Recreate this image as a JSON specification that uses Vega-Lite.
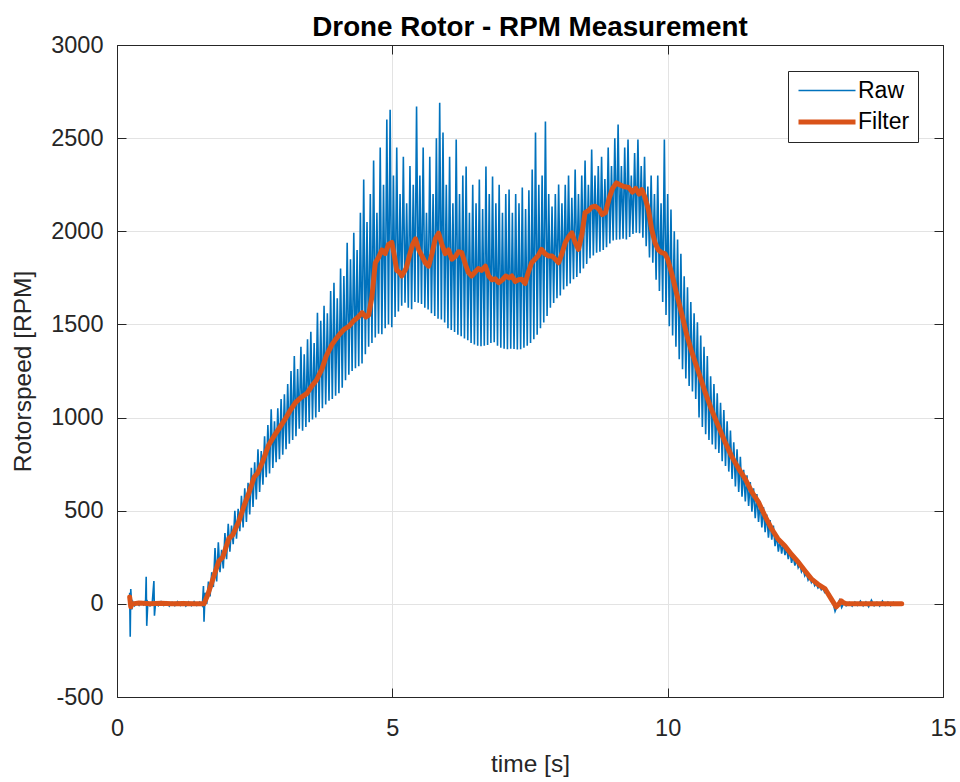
{
"$schema":"https://vega.github.io/schema/vega-lite/v6.json",
"width":826,"height":652,
"autosize":{"type":"none"},
"padding":{"left":117,"top":45,"right":17,"bottom":85},
"background":"white",
"title":{"text":"Drone Rotor - RPM Measurement","font":"Liberation Sans","fontSize":27.8,"fontWeight":"bold","color":"#000000","offset":-31,"baseline":"alphabetic","anchor":"middle"},
"config":{
"view":{"stroke":"#262626","strokeWidth":1},
"axis":{"domainColor":"#262626","tickColor":"#262626","labelColor":"#262626","titleColor":"#262626","labelFont":"Liberation Sans","titleFont":"Liberation Sans","labelFontSize":23.5,"titleFontSize":24.5,"titleFontWeight":"normal","gridColor":"#e3e3e3","gridWidth":1,"tickSize":-9,"domainWidth":1,"labelExpr":"''+datum.value","labelFlush":false,"labelOverlap":false}
},
"datasets":{
"raw":[
{"t":0.23,"v":60,"s":"Raw"},{"t":0.24,"v":-177,"s":"Raw"},{"t":0.25,"v":80,"s":"Raw"},{"t":0.27,"v":-30,"s":"Raw"},{"t":0.29,"v":10,"s":"Raw"},{"t":0.32,"v":-10,"s":"Raw"},{"t":0.36,"v":5,"s":"Raw"},{"t":0.40,"v":-8,"s":"Raw"},{"t":0.44,"v":10,"s":"Raw"},{"t":0.48,"v":-5,"s":"Raw"},{"t":0.52,"v":20,"s":"Raw"},{"t":0.53,"v":145,"s":"Raw"},{"t":0.54,"v":-118,"s":"Raw"},{"t":0.56,"v":10,"s":"Raw"},{"t":0.60,"v":-10,"s":"Raw"},{"t":0.64,"v":5,"s":"Raw"},{"t":0.67,"v":123,"s":"Raw"},{"t":0.68,"v":-64,"s":"Raw"},{"t":0.70,"v":5,"s":"Raw"},{"t":0.75,"v":-10,"s":"Raw"},{"t":0.80,"v":12,"s":"Raw"},{"t":0.85,"v":-8,"s":"Raw"},{"t":0.90,"v":10,"s":"Raw"},{"t":0.95,"v":-12,"s":"Raw"},{"t":1.00,"v":8,"s":"Raw"},{"t":1.05,"v":-10,"s":"Raw"},{"t":1.10,"v":12,"s":"Raw"},{"t":1.15,"v":-8,"s":"Raw"},{"t":1.20,"v":10,"s":"Raw"},{"t":1.25,"v":-12,"s":"Raw"},{"t":1.30,"v":10,"s":"Raw"},{"t":1.35,"v":-10,"s":"Raw"},{"t":1.40,"v":12,"s":"Raw"},{"t":1.45,"v":-8,"s":"Raw"},{"t":1.50,"v":10,"s":"Raw"},{"t":1.55,"v":-10,"s":"Raw"},{"t":1.57,"v":96,"s":"Raw"},{"t":1.58,"v":-96,"s":"Raw"},
{"t":1.60,"v":60,"s":"Raw"},{"t":1.63,"v":0,"s":"Raw"},{"t":1.66,"v":120,"s":"Raw"},{"t":1.69,"v":40,"s":"Raw"},{"t":1.72,"v":170,"s":"Raw"},{"t":1.75,"v":90,"s":"Raw"},{"t":1.78,"v":300,"s":"Raw"},{"t":1.81,"v":120,"s":"Raw"},{"t":1.84,"v":330,"s":"Raw"},{"t":1.87,"v":170,"s":"Raw"},{"t":1.90,"v":290,"s":"Raw"},{"t":1.93,"v":190,"s":"Raw"},{"t":1.96,"v":380,"s":"Raw"},{"t":1.99,"v":240,"s":"Raw"},
{"t":2.02,"v":430,"s":"Raw"},{"t":2.05,"v":280,"s":"Raw"},{"t":2.08,"v":420,"s":"Raw"},{"t":2.11,"v":320,"s":"Raw"},{"t":2.14,"v":500,"s":"Raw"},{"t":2.17,"v":350,"s":"Raw"},{"t":2.20,"v":510,"s":"Raw"},{"t":2.23,"v":390,"s":"Raw"},{"t":2.26,"v":580,"s":"Raw"},{"t":2.29,"v":410,"s":"Raw"},{"t":2.32,"v":620,"s":"Raw"},{"t":2.35,"v":440,"s":"Raw"},{"t":2.38,"v":650,"s":"Raw"},{"t":2.41,"v":480,"s":"Raw"},{"t":2.44,"v":730,"s":"Raw"},{"t":2.47,"v":520,"s":"Raw"},{"t":2.50,"v":760,"s":"Raw"},{"t":2.53,"v":560,"s":"Raw"},{"t":2.56,"v":830,"s":"Raw"},{"t":2.59,"v":600,"s":"Raw"},{"t":2.62,"v":820,"s":"Raw"},{"t":2.65,"v":640,"s":"Raw"},{"t":2.68,"v":900,"s":"Raw"},{"t":2.71,"v":680,"s":"Raw"},{"t":2.74,"v":960,"s":"Raw"},{"t":2.77,"v":700,"s":"Raw"},{"t":2.80,"v":1045,"s":"Raw"},{"t":2.83,"v":730,"s":"Raw"},{"t":2.86,"v":980,"s":"Raw"},{"t":2.89,"v":760,"s":"Raw"},{"t":2.92,"v":1050,"s":"Raw"},{"t":2.95,"v":777,"s":"Raw"},{"t":2.98,"v":1100,"s":"Raw"},
{"t":3.01,"v":800,"s":"Raw"},{"t":3.04,"v":1125,"s":"Raw"},{"t":3.07,"v":830,"s":"Raw"},{"t":3.10,"v":1180,"s":"Raw"},{"t":3.13,"v":860,"s":"Raw"},{"t":3.16,"v":1250,"s":"Raw"},{"t":3.19,"v":880,"s":"Raw"},{"t":3.22,"v":1331,"s":"Raw"},{"t":3.25,"v":900,"s":"Raw"},{"t":3.28,"v":1260,"s":"Raw"},{"t":3.31,"v":940,"s":"Raw"},{"t":3.34,"v":1380,"s":"Raw"},{"t":3.37,"v":930,"s":"Raw"},{"t":3.40,"v":1340,"s":"Raw"},{"t":3.43,"v":950,"s":"Raw"},{"t":3.46,"v":1420,"s":"Raw"},{"t":3.49,"v":975,"s":"Raw"},{"t":3.52,"v":1460,"s":"Raw"},{"t":3.55,"v":990,"s":"Raw"},{"t":3.58,"v":1400,"s":"Raw"},{"t":3.61,"v":1000,"s":"Raw"},{"t":3.64,"v":1563,"s":"Raw"},{"t":3.67,"v":1030,"s":"Raw"},{"t":3.70,"v":1520,"s":"Raw"},{"t":3.73,"v":1050,"s":"Raw"},{"t":3.76,"v":1600,"s":"Raw"},{"t":3.79,"v":1070,"s":"Raw"},{"t":3.82,"v":1560,"s":"Raw"},{"t":3.85,"v":1090,"s":"Raw"},{"t":3.88,"v":1680,"s":"Raw"},{"t":3.91,"v":1100,"s":"Raw"},{"t":3.94,"v":1724,"s":"Raw"},{"t":3.97,"v":1117,"s":"Raw"},
{"t":4.00,"v":1640,"s":"Raw"},{"t":4.03,"v":1130,"s":"Raw"},{"t":4.06,"v":1800,"s":"Raw"},{"t":4.09,"v":1160,"s":"Raw"},{"t":4.12,"v":1760,"s":"Raw"},{"t":4.15,"v":1200,"s":"Raw"},{"t":4.18,"v":1938,"s":"Raw"},{"t":4.21,"v":1230,"s":"Raw"},{"t":4.24,"v":1850,"s":"Raw"},{"t":4.27,"v":1250,"s":"Raw"},{"t":4.30,"v":1992,"s":"Raw"},{"t":4.33,"v":1265,"s":"Raw"},{"t":4.36,"v":1900,"s":"Raw"},{"t":4.39,"v":1275,"s":"Raw"},{"t":4.42,"v":2100,"s":"Raw"},{"t":4.45,"v":1290,"s":"Raw"},{"t":4.48,"v":2278,"s":"Raw"},{"t":4.51,"v":1340,"s":"Raw"},{"t":4.54,"v":2050,"s":"Raw"},{"t":4.57,"v":1380,"s":"Raw"},{"t":4.60,"v":2200,"s":"Raw"},{"t":4.63,"v":1400,"s":"Raw"},{"t":4.66,"v":2380,"s":"Raw"},{"t":4.69,"v":1430,"s":"Raw"},{"t":4.72,"v":2100,"s":"Raw"},{"t":4.75,"v":1450,"s":"Raw"},{"t":4.78,"v":2450,"s":"Raw"},{"t":4.81,"v":1447,"s":"Raw"},{"t":4.84,"v":2250,"s":"Raw"},{"t":4.87,"v":1480,"s":"Raw"},{"t":4.90,"v":2600,"s":"Raw"},{"t":4.93,"v":1500,"s":"Raw"},{"t":4.96,"v":2653,"s":"Raw"},{"t":4.99,"v":1485,"s":"Raw"},
{"t":5.02,"v":2300,"s":"Raw"},{"t":5.05,"v":1540,"s":"Raw"},{"t":5.08,"v":2450,"s":"Raw"},{"t":5.11,"v":1570,"s":"Raw"},{"t":5.14,"v":2200,"s":"Raw"},{"t":5.17,"v":1600,"s":"Raw"},{"t":5.20,"v":2400,"s":"Raw"},{"t":5.23,"v":1617,"s":"Raw"},{"t":5.26,"v":2150,"s":"Raw"},{"t":5.29,"v":1590,"s":"Raw"},{"t":5.32,"v":2350,"s":"Raw"},{"t":5.35,"v":1581,"s":"Raw"},{"t":5.38,"v":2250,"s":"Raw"},{"t":5.41,"v":1620,"s":"Raw"},{"t":5.44,"v":2670,"s":"Raw"},{"t":5.47,"v":1617,"s":"Raw"},{"t":5.50,"v":2300,"s":"Raw"},{"t":5.53,"v":1610,"s":"Raw"},{"t":5.56,"v":2450,"s":"Raw"},{"t":5.59,"v":1590,"s":"Raw"},{"t":5.62,"v":2100,"s":"Raw"},{"t":5.65,"v":1580,"s":"Raw"},{"t":5.68,"v":2400,"s":"Raw"},{"t":5.71,"v":1560,"s":"Raw"},{"t":5.74,"v":2200,"s":"Raw"},{"t":5.77,"v":1545,"s":"Raw"},{"t":5.80,"v":2500,"s":"Raw"},{"t":5.83,"v":1530,"s":"Raw"},{"t":5.86,"v":2690,"s":"Raw"},{"t":5.89,"v":1527,"s":"Raw"},{"t":5.92,"v":2530,"s":"Raw"},{"t":5.95,"v":1510,"s":"Raw"},{"t":5.98,"v":2250,"s":"Raw"},
{"t":6.01,"v":1480,"s":"Raw"},{"t":6.04,"v":2400,"s":"Raw"},{"t":6.07,"v":1470,"s":"Raw"},{"t":6.10,"v":2150,"s":"Raw"},{"t":6.13,"v":1460,"s":"Raw"},{"t":6.16,"v":2493,"s":"Raw"},{"t":6.19,"v":1445,"s":"Raw"},{"t":6.22,"v":2200,"s":"Raw"},{"t":6.25,"v":1436,"s":"Raw"},{"t":6.28,"v":2300,"s":"Raw"},{"t":6.31,"v":1425,"s":"Raw"},{"t":6.34,"v":2348,"s":"Raw"},{"t":6.37,"v":1415,"s":"Raw"},{"t":6.40,"v":2100,"s":"Raw"},{"t":6.43,"v":1400,"s":"Raw"},{"t":6.46,"v":2250,"s":"Raw"},{"t":6.49,"v":1392,"s":"Raw"},{"t":6.52,"v":2150,"s":"Raw"},{"t":6.55,"v":1385,"s":"Raw"},{"t":6.58,"v":2278,"s":"Raw"},{"t":6.61,"v":1383,"s":"Raw"},{"t":6.64,"v":2120,"s":"Raw"},{"t":6.67,"v":1385,"s":"Raw"},{"t":6.70,"v":2348,"s":"Raw"},{"t":6.73,"v":1390,"s":"Raw"},{"t":6.76,"v":2200,"s":"Raw"},{"t":6.79,"v":1400,"s":"Raw"},{"t":6.82,"v":2294,"s":"Raw"},{"t":6.85,"v":1404,"s":"Raw"},{"t":6.88,"v":2150,"s":"Raw"},{"t":6.91,"v":1385,"s":"Raw"},{"t":6.94,"v":2250,"s":"Raw"},{"t":6.97,"v":1375,"s":"Raw"},
{"t":7.00,"v":2100,"s":"Raw"},{"t":7.03,"v":1370,"s":"Raw"},{"t":7.06,"v":2200,"s":"Raw"},{"t":7.09,"v":1367,"s":"Raw"},{"t":7.12,"v":2224,"s":"Raw"},{"t":7.15,"v":1370,"s":"Raw"},{"t":7.18,"v":2100,"s":"Raw"},{"t":7.21,"v":1368,"s":"Raw"},{"t":7.24,"v":2200,"s":"Raw"},{"t":7.27,"v":1365,"s":"Raw"},{"t":7.30,"v":2150,"s":"Raw"},{"t":7.33,"v":1367,"s":"Raw"},{"t":7.36,"v":2235,"s":"Raw"},{"t":7.39,"v":1375,"s":"Raw"},{"t":7.42,"v":2120,"s":"Raw"},{"t":7.45,"v":1385,"s":"Raw"},{"t":7.48,"v":2220,"s":"Raw"},{"t":7.51,"v":1400,"s":"Raw"},{"t":7.54,"v":2331,"s":"Raw"},{"t":7.57,"v":1420,"s":"Raw"},{"t":7.60,"v":2530,"s":"Raw"},{"t":7.63,"v":1445,"s":"Raw"},{"t":7.66,"v":2250,"s":"Raw"},{"t":7.69,"v":1480,"s":"Raw"},{"t":7.72,"v":2300,"s":"Raw"},{"t":7.75,"v":1511,"s":"Raw"},{"t":7.78,"v":2589,"s":"Raw"},{"t":7.81,"v":1545,"s":"Raw"},{"t":7.84,"v":2200,"s":"Raw"},{"t":7.87,"v":1590,"s":"Raw"},{"t":7.90,"v":2133,"s":"Raw"},{"t":7.93,"v":1615,"s":"Raw"},{"t":7.96,"v":2200,"s":"Raw"},{"t":7.99,"v":1640,"s":"Raw"},
{"t":8.02,"v":2251,"s":"Raw"},{"t":8.05,"v":1655,"s":"Raw"},{"t":8.08,"v":2150,"s":"Raw"},{"t":8.11,"v":1688,"s":"Raw"},{"t":8.14,"v":2250,"s":"Raw"},{"t":8.17,"v":1705,"s":"Raw"},{"t":8.20,"v":2300,"s":"Raw"},{"t":8.23,"v":1720,"s":"Raw"},{"t":8.26,"v":2180,"s":"Raw"},{"t":8.29,"v":1742,"s":"Raw"},{"t":8.32,"v":2331,"s":"Raw"},{"t":8.35,"v":1755,"s":"Raw"},{"t":8.38,"v":2200,"s":"Raw"},{"t":8.41,"v":1775,"s":"Raw"},{"t":8.44,"v":2300,"s":"Raw"},{"t":8.47,"v":1800,"s":"Raw"},{"t":8.50,"v":2380,"s":"Raw"},{"t":8.53,"v":1825,"s":"Raw"},{"t":8.56,"v":2250,"s":"Raw"},{"t":8.59,"v":1855,"s":"Raw"},{"t":8.62,"v":2439,"s":"Raw"},{"t":8.65,"v":1870,"s":"Raw"},{"t":8.68,"v":2300,"s":"Raw"},{"t":8.71,"v":1885,"s":"Raw"},{"t":8.74,"v":2350,"s":"Raw"},{"t":8.77,"v":1890,"s":"Raw"},{"t":8.80,"v":2400,"s":"Raw"},{"t":8.83,"v":1900,"s":"Raw"},{"t":8.86,"v":2280,"s":"Raw"},{"t":8.89,"v":1915,"s":"Raw"},{"t":8.92,"v":2450,"s":"Raw"},{"t":8.95,"v":1935,"s":"Raw"},{"t":8.98,"v":2350,"s":"Raw"},
{"t":9.01,"v":1950,"s":"Raw"},{"t":9.04,"v":2500,"s":"Raw"},{"t":9.07,"v":1955,"s":"Raw"},{"t":9.10,"v":2573,"s":"Raw"},{"t":9.13,"v":1956,"s":"Raw"},{"t":9.16,"v":2350,"s":"Raw"},{"t":9.19,"v":1960,"s":"Raw"},{"t":9.22,"v":2450,"s":"Raw"},{"t":9.25,"v":1956,"s":"Raw"},{"t":9.28,"v":2493,"s":"Raw"},{"t":9.31,"v":1970,"s":"Raw"},{"t":9.34,"v":2300,"s":"Raw"},{"t":9.37,"v":1985,"s":"Raw"},{"t":9.40,"v":2420,"s":"Raw"},{"t":9.43,"v":1992,"s":"Raw"},{"t":9.46,"v":2493,"s":"Raw"},{"t":9.49,"v":1990,"s":"Raw"},{"t":9.52,"v":2350,"s":"Raw"},{"t":9.55,"v":1965,"s":"Raw"},{"t":9.58,"v":2400,"s":"Raw"},{"t":9.61,"v":1920,"s":"Raw"},{"t":9.64,"v":2240,"s":"Raw"},{"t":9.67,"v":1860,"s":"Raw"},{"t":9.70,"v":2300,"s":"Raw"},{"t":9.73,"v":1831,"s":"Raw"},{"t":9.76,"v":2200,"s":"Raw"},{"t":9.79,"v":1740,"s":"Raw"},{"t":9.82,"v":2300,"s":"Raw"},{"t":9.85,"v":1680,"s":"Raw"},{"t":9.88,"v":2150,"s":"Raw"},{"t":9.91,"v":1620,"s":"Raw"},{"t":9.94,"v":2493,"s":"Raw"},{"t":9.97,"v":1550,"s":"Raw"},
{"t":10.00,"v":2200,"s":"Raw"},{"t":10.03,"v":1490,"s":"Raw"},{"t":10.06,"v":2117,"s":"Raw"},{"t":10.09,"v":1440,"s":"Raw"},{"t":10.12,"v":2000,"s":"Raw"},{"t":10.15,"v":1380,"s":"Raw"},{"t":10.18,"v":1956,"s":"Raw"},{"t":10.21,"v":1313,"s":"Raw"},{"t":10.24,"v":1880,"s":"Raw"},{"t":10.27,"v":1260,"s":"Raw"},{"t":10.30,"v":1758,"s":"Raw"},{"t":10.33,"v":1210,"s":"Raw"},{"t":10.36,"v":1700,"s":"Raw"},{"t":10.39,"v":1170,"s":"Raw"},{"t":10.42,"v":1620,"s":"Raw"},{"t":10.45,"v":1140,"s":"Raw"},{"t":10.48,"v":1560,"s":"Raw"},{"t":10.51,"v":1100,"s":"Raw"},{"t":10.54,"v":1511,"s":"Raw"},{"t":10.57,"v":1000,"s":"Raw"},{"t":10.60,"v":1440,"s":"Raw"},{"t":10.63,"v":950,"s":"Raw"},{"t":10.66,"v":1380,"s":"Raw"},{"t":10.69,"v":910,"s":"Raw"},{"t":10.72,"v":1330,"s":"Raw"},{"t":10.75,"v":880,"s":"Raw"},{"t":10.78,"v":1222,"s":"Raw"},{"t":10.81,"v":855,"s":"Raw"},{"t":10.84,"v":1180,"s":"Raw"},{"t":10.87,"v":830,"s":"Raw"},{"t":10.90,"v":1130,"s":"Raw"},{"t":10.93,"v":810,"s":"Raw"},{"t":10.96,"v":1080,"s":"Raw"},{"t":10.99,"v":765,"s":"Raw"},
{"t":11.02,"v":1040,"s":"Raw"},{"t":11.05,"v":740,"s":"Raw"},{"t":11.08,"v":980,"s":"Raw"},{"t":11.11,"v":710,"s":"Raw"},{"t":11.14,"v":930,"s":"Raw"},{"t":11.17,"v":670,"s":"Raw"},{"t":11.20,"v":868,"s":"Raw"},{"t":11.23,"v":630,"s":"Raw"},{"t":11.26,"v":830,"s":"Raw"},{"t":11.29,"v":600,"s":"Raw"},{"t":11.32,"v":790,"s":"Raw"},{"t":11.35,"v":575,"s":"Raw"},{"t":11.38,"v":720,"s":"Raw"},{"t":11.41,"v":550,"s":"Raw"},{"t":11.44,"v":690,"s":"Raw"},{"t":11.47,"v":525,"s":"Raw"},{"t":11.50,"v":654,"s":"Raw"},{"t":11.53,"v":495,"s":"Raw"},{"t":11.56,"v":620,"s":"Raw"},{"t":11.59,"v":460,"s":"Raw"},{"t":11.62,"v":590,"s":"Raw"},{"t":11.65,"v":440,"s":"Raw"},{"t":11.68,"v":550,"s":"Raw"},{"t":11.71,"v":410,"s":"Raw"},{"t":11.74,"v":520,"s":"Raw"},{"t":11.77,"v":385,"s":"Raw"},{"t":11.80,"v":480,"s":"Raw"},{"t":11.83,"v":355,"s":"Raw"},{"t":11.86,"v":450,"s":"Raw"},{"t":11.89,"v":345,"s":"Raw"},{"t":11.92,"v":420,"s":"Raw"},{"t":11.95,"v":310,"s":"Raw"},{"t":11.98,"v":370,"s":"Raw"},
{"t":12.01,"v":280,"s":"Raw"},{"t":12.04,"v":345,"s":"Raw"},{"t":12.07,"v":270,"s":"Raw"},{"t":12.10,"v":330,"s":"Raw"},{"t":12.13,"v":262,"s":"Raw"},{"t":12.16,"v":300,"s":"Raw"},{"t":12.19,"v":240,"s":"Raw"},{"t":12.22,"v":285,"s":"Raw"},{"t":12.25,"v":220,"s":"Raw"},{"t":12.28,"v":260,"s":"Raw"},{"t":12.31,"v":205,"s":"Raw"},{"t":12.34,"v":240,"s":"Raw"},{"t":12.37,"v":195,"s":"Raw"},{"t":12.40,"v":215,"s":"Raw"},{"t":12.43,"v":172,"s":"Raw"},{"t":12.46,"v":190,"s":"Raw"},{"t":12.49,"v":150,"s":"Raw"},{"t":12.52,"v":165,"s":"Raw"},{"t":12.55,"v":128,"s":"Raw"},{"t":12.58,"v":145,"s":"Raw"},{"t":12.61,"v":115,"s":"Raw"},{"t":12.64,"v":130,"s":"Raw"},{"t":12.67,"v":98,"s":"Raw"},{"t":12.70,"v":110,"s":"Raw"},{"t":12.73,"v":85,"s":"Raw"},{"t":12.76,"v":95,"s":"Raw"},{"t":12.79,"v":75,"s":"Raw"},{"t":12.82,"v":85,"s":"Raw"},{"t":12.85,"v":62,"s":"Raw"},{"t":12.88,"v":70,"s":"Raw"},{"t":12.91,"v":48,"s":"Raw"},{"t":12.94,"v":50,"s":"Raw"},{"t":12.97,"v":25,"s":"Raw"},
{"t":13.00,"v":10,"s":"Raw"},{"t":13.04,"v":-40,"s":"Raw"},{"t":13.08,"v":-10,"s":"Raw"},{"t":13.12,"v":20,"s":"Raw"},{"t":13.16,"v":-20,"s":"Raw"},{"t":13.20,"v":5,"s":"Raw"},{"t":13.24,"v":-10,"s":"Raw"},{"t":13.30,"v":8,"s":"Raw"},{"t":13.35,"v":-12,"s":"Raw"},{"t":13.40,"v":10,"s":"Raw"},{"t":13.45,"v":-8,"s":"Raw"},{"t":13.50,"v":15,"s":"Raw"},{"t":13.55,"v":-10,"s":"Raw"},{"t":13.60,"v":10,"s":"Raw"},{"t":13.65,"v":-15,"s":"Raw"},{"t":13.70,"v":20,"s":"Raw"},{"t":13.75,"v":-10,"s":"Raw"},{"t":13.80,"v":8,"s":"Raw"},{"t":13.85,"v":-12,"s":"Raw"},{"t":13.90,"v":15,"s":"Raw"},{"t":13.95,"v":-8,"s":"Raw"},{"t":14.00,"v":10,"s":"Raw"},{"t":14.05,"v":-10,"s":"Raw"},{"t":14.10,"v":8,"s":"Raw"},{"t":14.15,"v":-5,"s":"Raw"},{"t":14.20,"v":5,"s":"Raw"},{"t":14.25,"v":0,"s":"Raw"}
],
"filt":[
{"t":0.23,"v":37,"s":"Filter"},{"t":0.25,"v":-16,"s":"Filter"},{"t":0.28,"v":0,"s":"Filter"},{"t":0.4,"v":5,"s":"Filter"},{"t":0.6,"v":0,"s":"Filter"},{"t":0.8,"v":3,"s":"Filter"},{"t":1.0,"v":0,"s":"Filter"},{"t":1.2,"v":2,"s":"Filter"},{"t":1.4,"v":0,"s":"Filter"},{"t":1.58,"v":0,"s":"Filter"},{"t":1.65,"v":50,"s":"Filter"},{"t":1.76,"v":150,"s":"Filter"},{"t":1.85,"v":230,"s":"Filter"},{"t":1.92,"v":250,"s":"Filter"},{"t":2.03,"v":350,"s":"Filter"},{"t":2.1,"v":370,"s":"Filter"},{"t":2.21,"v":440,"s":"Filter"},{"t":2.3,"v":520,"s":"Filter"},{"t":2.4,"v":600,"s":"Filter"},{"t":2.49,"v":680,"s":"Filter"},{"t":2.55,"v":700,"s":"Filter"},{"t":2.64,"v":760,"s":"Filter"},{"t":2.75,"v":850,"s":"Filter"},{"t":2.85,"v":900,"s":"Filter"},{"t":2.94,"v":940,"s":"Filter"},{"t":3.05,"v":990,"s":"Filter"},{"t":3.15,"v":1040,"s":"Filter"},{"t":3.24,"v":1080,"s":"Filter"},{"t":3.35,"v":1110,"s":"Filter"},{"t":3.45,"v":1130,"s":"Filter"},{"t":3.54,"v":1170,"s":"Filter"},{"t":3.62,"v":1200,"s":"Filter"},{"t":3.72,"v":1260,"s":"Filter"},{"t":3.8,"v":1330,"s":"Filter"},{"t":3.9,"v":1390,"s":"Filter"},{"t":3.97,"v":1420,"s":"Filter"},{"t":4.05,"v":1450,"s":"Filter"},{"t":4.13,"v":1475,"s":"Filter"},{"t":4.21,"v":1490,"s":"Filter"},{"t":4.3,"v":1520,"s":"Filter"},{"t":4.38,"v":1540,"s":"Filter"},{"t":4.45,"v":1563,"s":"Filter"},{"t":4.52,"v":1540,"s":"Filter"},{"t":4.57,"v":1550,"s":"Filter"},{"t":4.63,"v":1650,"s":"Filter"},{"t":4.69,"v":1830,"s":"Filter"},{"t":4.75,"v":1860,"s":"Filter"},{"t":4.81,"v":1900,"s":"Filter"},{"t":4.87,"v":1880,"s":"Filter"},{"t":4.93,"v":1930,"s":"Filter"},{"t":4.99,"v":1940,"s":"Filter"},{"t":5.03,"v":1880,"s":"Filter"},{"t":5.08,"v":1790,"s":"Filter"},{"t":5.13,"v":1780,"s":"Filter"},{"t":5.17,"v":1760,"s":"Filter"},{"t":5.25,"v":1800,"s":"Filter"},{"t":5.32,"v":1880,"s":"Filter"},{"t":5.37,"v":1930,"s":"Filter"},{"t":5.42,"v":1960,"s":"Filter"},{"t":5.48,"v":1900,"s":"Filter"},{"t":5.54,"v":1867,"s":"Filter"},{"t":5.6,"v":1830,"s":"Filter"},{"t":5.66,"v":1813,"s":"Filter"},{"t":5.72,"v":1880,"s":"Filter"},{"t":5.78,"v":1960,"s":"Filter"},{"t":5.84,"v":1990,"s":"Filter"},{"t":5.9,"v":1930,"s":"Filter"},{"t":5.96,"v":1880,"s":"Filter"},{"t":6.02,"v":1900,"s":"Filter"},{"t":6.08,"v":1850,"s":"Filter"},{"t":6.15,"v":1867,"s":"Filter"},{"t":6.2,"v":1890,"s":"Filter"},{"t":6.26,"v":1885,"s":"Filter"},{"t":6.33,"v":1820,"s":"Filter"},{"t":6.38,"v":1780,"s":"Filter"},{"t":6.44,"v":1760,"s":"Filter"},{"t":6.5,"v":1780,"s":"Filter"},{"t":6.56,"v":1800,"s":"Filter"},{"t":6.62,"v":1790,"s":"Filter"},{"t":6.69,"v":1813,"s":"Filter"},{"t":6.75,"v":1760,"s":"Filter"},{"t":6.81,"v":1740,"s":"Filter"},{"t":6.87,"v":1745,"s":"Filter"},{"t":6.93,"v":1724,"s":"Filter"},{"t":7.0,"v":1740,"s":"Filter"},{"t":7.06,"v":1760,"s":"Filter"},{"t":7.12,"v":1750,"s":"Filter"},{"t":7.17,"v":1760,"s":"Filter"},{"t":7.23,"v":1730,"s":"Filter"},{"t":7.29,"v":1740,"s":"Filter"},{"t":7.35,"v":1742,"s":"Filter"},{"t":7.41,"v":1720,"s":"Filter"},{"t":7.47,"v":1780,"s":"Filter"},{"t":7.53,"v":1831,"s":"Filter"},{"t":7.59,"v":1850,"s":"Filter"},{"t":7.65,"v":1870,"s":"Filter"},{"t":7.71,"v":1903,"s":"Filter"},{"t":7.77,"v":1880,"s":"Filter"},{"t":7.84,"v":1867,"s":"Filter"},{"t":7.9,"v":1867,"s":"Filter"},{"t":7.96,"v":1850,"s":"Filter"},{"t":8.02,"v":1831,"s":"Filter"},{"t":8.08,"v":1880,"s":"Filter"},{"t":8.14,"v":1939,"s":"Filter"},{"t":8.2,"v":1970,"s":"Filter"},{"t":8.26,"v":1992,"s":"Filter"},{"t":8.32,"v":1940,"s":"Filter"},{"t":8.38,"v":1903,"s":"Filter"},{"t":8.44,"v":1980,"s":"Filter"},{"t":8.5,"v":2100,"s":"Filter"},{"t":8.56,"v":2110,"s":"Filter"},{"t":8.62,"v":2130,"s":"Filter"},{"t":8.68,"v":2135,"s":"Filter"},{"t":8.75,"v":2120,"s":"Filter"},{"t":8.81,"v":2090,"s":"Filter"},{"t":8.87,"v":2100,"s":"Filter"},{"t":8.94,"v":2180,"s":"Filter"},{"t":9.0,"v":2230,"s":"Filter"},{"t":9.07,"v":2260,"s":"Filter"},{"t":9.13,"v":2250,"s":"Filter"},{"t":9.2,"v":2240,"s":"Filter"},{"t":9.29,"v":2235,"s":"Filter"},{"t":9.36,"v":2210,"s":"Filter"},{"t":9.42,"v":2230,"s":"Filter"},{"t":9.48,"v":2200,"s":"Filter"},{"t":9.53,"v":2224,"s":"Filter"},{"t":9.59,"v":2180,"s":"Filter"},{"t":9.65,"v":2117,"s":"Filter"},{"t":9.71,"v":2010,"s":"Filter"},{"t":9.77,"v":1939,"s":"Filter"},{"t":9.83,"v":1900,"s":"Filter"},{"t":9.89,"v":1885,"s":"Filter"},{"t":9.95,"v":1880,"s":"Filter"},{"t":10.0,"v":1850,"s":"Filter"},{"t":10.07,"v":1778,"s":"Filter"},{"t":10.15,"v":1680,"s":"Filter"},{"t":10.25,"v":1563,"s":"Filter"},{"t":10.35,"v":1440,"s":"Filter"},{"t":10.43,"v":1360,"s":"Filter"},{"t":10.5,"v":1297,"s":"Filter"},{"t":10.6,"v":1210,"s":"Filter"},{"t":10.68,"v":1136,"s":"Filter"},{"t":10.8,"v":1040,"s":"Filter"},{"t":10.92,"v":954,"s":"Filter"},{"t":11.04,"v":870,"s":"Filter"},{"t":11.16,"v":793,"s":"Filter"},{"t":11.28,"v":730,"s":"Filter"},{"t":11.41,"v":670,"s":"Filter"},{"t":11.53,"v":600,"s":"Filter"},{"t":11.65,"v":546,"s":"Filter"},{"t":11.77,"v":470,"s":"Filter"},{"t":11.89,"v":402,"s":"Filter"},{"t":12.0,"v":350,"s":"Filter"},{"t":12.13,"v":311,"s":"Filter"},{"t":12.25,"v":265,"s":"Filter"},{"t":12.37,"v":225,"s":"Filter"},{"t":12.5,"v":175,"s":"Filter"},{"t":12.61,"v":134,"s":"Filter"},{"t":12.73,"v":105,"s":"Filter"},{"t":12.86,"v":80,"s":"Filter"},{"t":12.97,"v":27,"s":"Filter"},{"t":13.06,"v":-16,"s":"Filter"},{"t":13.1,"v":-5,"s":"Filter"},{"t":13.15,"v":16,"s":"Filter"},{"t":13.2,"v":5,"s":"Filter"},{"t":13.25,"v":0,"s":"Filter"},{"t":14.25,"v":0,"s":"Filter"}
]
},
"encoding":{
"x":{"field":"t","type":"quantitative","scale":{"domain":[0,15],"nice":false,"zero":false},"axis":{"title":"time [s]","values":[0,5,10,15],"labelPadding":28,"titlePadding":13}},
"y":{"field":"v","type":"quantitative","scale":{"domain":[-500,3000],"nice":false,"zero":false},"axis":{"title":"Rotorspeed [RPM]","values":[-500,0,500,1000,1500,2000,2500,3000],"labelPadding":23,"titlePadding":15}},
"color":{"field":"s","type":"nominal","scale":{"domain":["Raw","Filter"],"range":["#0072BD","#D95319"]},"legend":{"title":null,"orient":"none","legendX":671,"legendY":26,"symbolType":"M-3,0H3","symbolSize":361,"symbolOffset":19,"labelOffset":19,"labelFont":"Liberation Sans","labelFontSize":23,"labelColor":"#000000","strokeColor":"#262626","fillColor":"#ffffff","padding":8,"rowPadding":7,"cornerRadius":0}},
"strokeWidth":{"field":"s","type":"nominal","scale":{"domain":["Raw","Filter"],"range":[1.6,5]},"legend":{"title":null,"orient":"none","legendX":671,"legendY":26,"symbolType":"M-3,0H3","symbolSize":361,"symbolOffset":19,"labelOffset":19,"labelFont":"Liberation Sans","labelFontSize":23,"labelColor":"#000000","strokeColor":"#262626","fillColor":"#ffffff","padding":8,"rowPadding":7,"cornerRadius":0}}
},
"resolve":{"axis":{"x":"independent","y":"independent"}},
"layer":[
{"data":{"name":"raw"},"mark":{"type":"line","interpolate":"linear","clip":true}},
{"data":{"name":"filt"},"mark":{"type":"line","interpolate":"linear","clip":true,"strokeJoin":"round","strokeCap":"round"},
 "encoding":{"x":{"field":"t","type":"quantitative","axis":null},"y":{"field":"v","type":"quantitative","axis":null}}},
{"data":{"name":"filt"},"mark":{"type":"line","opacity":0},
 "encoding":{"x":{"field":"t","type":"quantitative","axis":{"orient":"top","labels":false,"title":null,"grid":false,"values":[0,5,10,15]}},"y":{"field":"v","type":"quantitative","axis":{"orient":"right","labels":false,"title":null,"grid":false,"values":[-500,0,500,1000,1500,2000,2500,3000]}}}}
]
}
